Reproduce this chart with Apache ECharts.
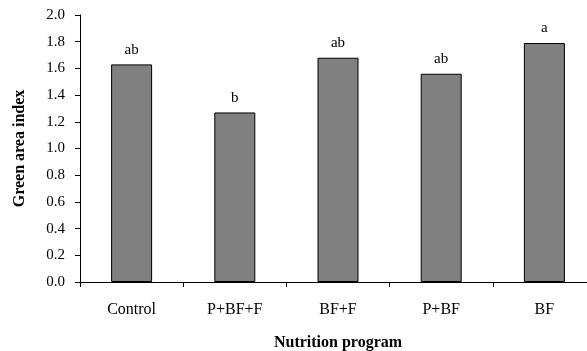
<!DOCTYPE html>
<html>
<head>
<meta charset="utf-8">
<script src="https://cdn.jsdelivr.net/npm/echarts@6/dist/echarts.min.js"></script>
<style>html,body{margin:0;padding:0;background:#fff;}#c{width:587px;height:351px;}</style>
</head>
<body>
<div id="c"></div>
<script>
var categories = ['Control', 'P+BF+F', 'BF+F', 'P+BF', 'BF'];
var values = [1.63, 1.27, 1.68, 1.56, 1.79];
var letters = ['ab', 'b', 'ab', 'ab', 'a'];
var yTicks = [0, 0.2, 0.4, 0.6, 0.8, 1.0, 1.2, 1.4, 1.6, 1.8, 2.0];

var font = '"Liberation Serif", "Times New Roman", serif';
var chart = echarts.init(document.getElementById('c'));
chart.setOption({
  animation: false,
  backgroundColor: '#fff',
  textStyle: { fontFamily: font, color: '#000' },
  grid: { left: 80, right: -9, top: 15, bottom: 69, containLabel: false, outerBoundsMode: 'none' },
  xAxis: {
    type: 'category',
    data: categories,
    name: 'Nutrition program',
    nameLocation: 'middle',
    nameGap: 53,
    nameTextStyle: { fontFamily: font, fontWeight: 'bold', fontSize: 16, color: '#000' },
    axisLine: { lineStyle: { color: '#000', width: 1 } },
    axisTick: { show: true, length: 5, lineStyle: { color: '#000' } },
    axisLabel: { fontFamily: font, fontSize: 16, color: '#000', margin: 20 },
    splitLine: { show: false }
  },
  yAxis: {
    type: 'value',
    min: yTicks[0],
    max: yTicks[yTicks.length - 1],
    interval: 0.2,
    name: 'Green area index',
    nameLocation: 'middle',
    nameGap: 52,
    nameRotate: 90,
    nameTextStyle: { fontFamily: font, fontWeight: 'bold', fontSize: 16, color: '#000' },
    axisLine: { show: true, lineStyle: { color: '#000', width: 1 } },
    axisTick: { show: true, length: 5, inside: false, lineStyle: { color: '#000' } },
    axisLabel: { fontFamily: font, fontSize: 15, color: '#000', margin: 15, formatter: function (v) { return v.toFixed(1); } },
    splitLine: { show: false }
  },
  series: [{
    type: 'bar',
    data: values,
    barWidth: 41,
    itemStyle: { color: '#808080', borderColor: '#000', borderWidth: 1 },
    label: {
      show: true,
      position: 'top',
      distance: 7,
      fontFamily: font,
      fontSize: 15,
      color: '#000',
      formatter: function (p) { return letters[p.dataIndex]; }
    }
  }]
});
</script>
</body>
</html>
